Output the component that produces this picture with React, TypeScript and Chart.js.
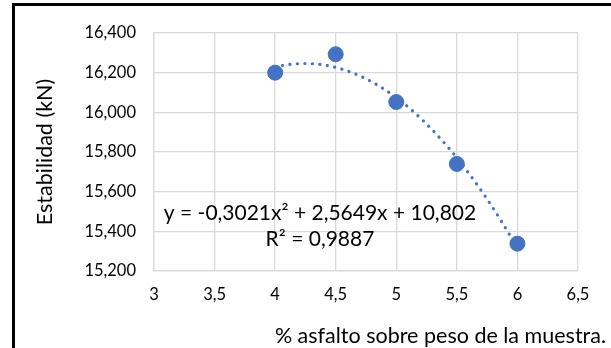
import { useEffect, useRef } from "react";
import { Chart, registerables } from "chart.js";

Chart.register(...registerables);

// Asphalt content (% by weight of the sample) and measured Marshall stability
const asphaltContent = [4, 4.5, 5, 5.5, 6];
const stability = [16.2, 16.293, 16.052, 15.74, 15.338];

// Second-order polynomial trendline: y = a·x² + b·x + c
const trendCoefficients = [-0.3021, 2.5649, 10.802];
const trendRange = [4, 6];

const xTicks = [3, 3.5, 4, 4.5, 5, 5.5, 6, 6.5];
const yTicks = [15.2, 15.4, 15.6, 15.8, 16.0, 16.2, 16.4];

const equationText = "y = -0,3021x² + 2,5649x + 10,802";
const r2Text = "R² = 0,9887";
const xTitle = "% asfalto sobre peso de la muestra.";
const yTitle = "Estabilidad (kN)";

const FONT = "Lato, 'Open Sans', sans-serif";
const BLUE = "#4472C4";
const GRID = "#d9d9d9";

function trendPoints() {
  const [a, b, c] = trendCoefficients;
  const pts: { x: number; y: number }[] = [];
  const steps = 100;
  for (let i = 0; i <= steps; i++) {
    const x = trendRange[0] + ((trendRange[1] - trendRange[0]) * i) / steps;
    pts.push({ x, y: a * x * x + b * x + c });
  }
  return pts;
}

const decimalComma = (v: number, digits: number) =>
  v.toFixed(digits).replace(".", ",");

const textPlugin = {
  id: "chartTexts",
  afterDraw(chart: any) {
    const { ctx, chartArea } = chart;
    ctx.save();
    ctx.fillStyle = "#000";
    ctx.textBaseline = "alphabetic";

    // trendline label
    ctx.font = `21px ${FONT}`;
    ctx.textAlign = "center";
    const cx = chartArea.left + 166;
    ctx.fillText(equationText, cx, 220);
    ctx.fillText(r2Text, cx, 246);

    // x-axis title
    ctx.font = `21.5px ${FONT}`;
    ctx.textAlign = "right";
    ctx.fillText(xTitle, chartArea.right + 28, 343);

    // y-axis title
    ctx.translate(45, (chartArea.top + chartArea.bottom) / 2);
    ctx.rotate(-Math.PI / 2);
    ctx.textAlign = "center";
    ctx.textBaseline = "middle";
    ctx.fillText(yTitle, 0, 0);
    ctx.restore();
  },
};

export default function App() {
  const canvasRef = useRef<HTMLCanvasElement>(null);

  useEffect(() => {
    const canvas = canvasRef.current;
    if (!canvas) return;
    const chart = new Chart(canvas, {
      type: "scatter",
      data: {
        datasets: [
          {
            label: "Tendencia",
            data: trendPoints(),
            showLine: true,
            borderColor: BLUE,
            borderWidth: 3.2,
            borderDash: [0.1, 7.4],
            borderCapStyle: "round",
            pointRadius: 0,
            fill: false,
            order: 0,
          },
          {
            label: "Estabilidad",
            data: asphaltContent.map((x, i) => ({ x, y: stability[i] })),
            backgroundColor: BLUE,
            borderColor: BLUE,
            pointRadius: 7.5,
            pointHoverRadius: 7.5,
            order: 1,
          },
        ],
      },
      options: {
        animation: false,
        responsive: false,
        events: [],
        layout: { padding: { top: 33, right: 33, left: 0, bottom: 0 } },
        plugins: {
          legend: { display: false },
          tooltip: { enabled: false },
        },
        scales: {
          x: {
            type: "linear",
            min: 3,
            max: 6.5,
            afterBuildTicks: (s: any) => {
              s.ticks = xTicks.map((value) => ({ value }));
            },
            afterFit: (s: any) => {
              s.height = 77;
            },
            grid: { color: GRID, lineWidth: 1.3, drawTicks: false },
            border: { color: GRID, width: 1.3 },
            ticks: {
              padding: 14,
              color: "#000",
              font: { family: FONT, size: 16.5 },
              callback: (v: any) => String(v).replace(".", ","),
            },
          },
          y: {
            type: "linear",
            min: 15.2,
            max: 16.4,
            afterBuildTicks: (s: any) => {
              s.ticks = yTicks.map((value) => ({ value }));
            },
            afterFit: (s: any) => {
              s.width = 154;
            },
            grid: { color: GRID, lineWidth: 1.3, drawTicks: false },
            border: { color: GRID, width: 1.3 },
            ticks: {
              padding: 18,
              color: "#000",
              font: { family: FONT, size: 16.5 },
              callback: (v: any) => decimalComma(Number(v), 3),
            },
          },
        },
      },
      plugins: [textPlugin],
    });
    return () => chart.destroy();
  }, []);

  return (
    <div
      style={{
        position: "fixed",
        left: 0,
        top: 0,
        width: 611,
        height: 348,
        overflow: "hidden",
        background: "#fff",
      }}
    >
      <div
        style={{
          position: "absolute",
          left: 12,
          top: 3,
          width: 700,
          height: 400,
          border: "3px solid #000",
        }}
      />
      <canvas
        ref={canvasRef}
        width={611}
        height={348}
        style={{ position: "absolute", left: 0, top: 0 }}
      />
    </div>
  );
}
